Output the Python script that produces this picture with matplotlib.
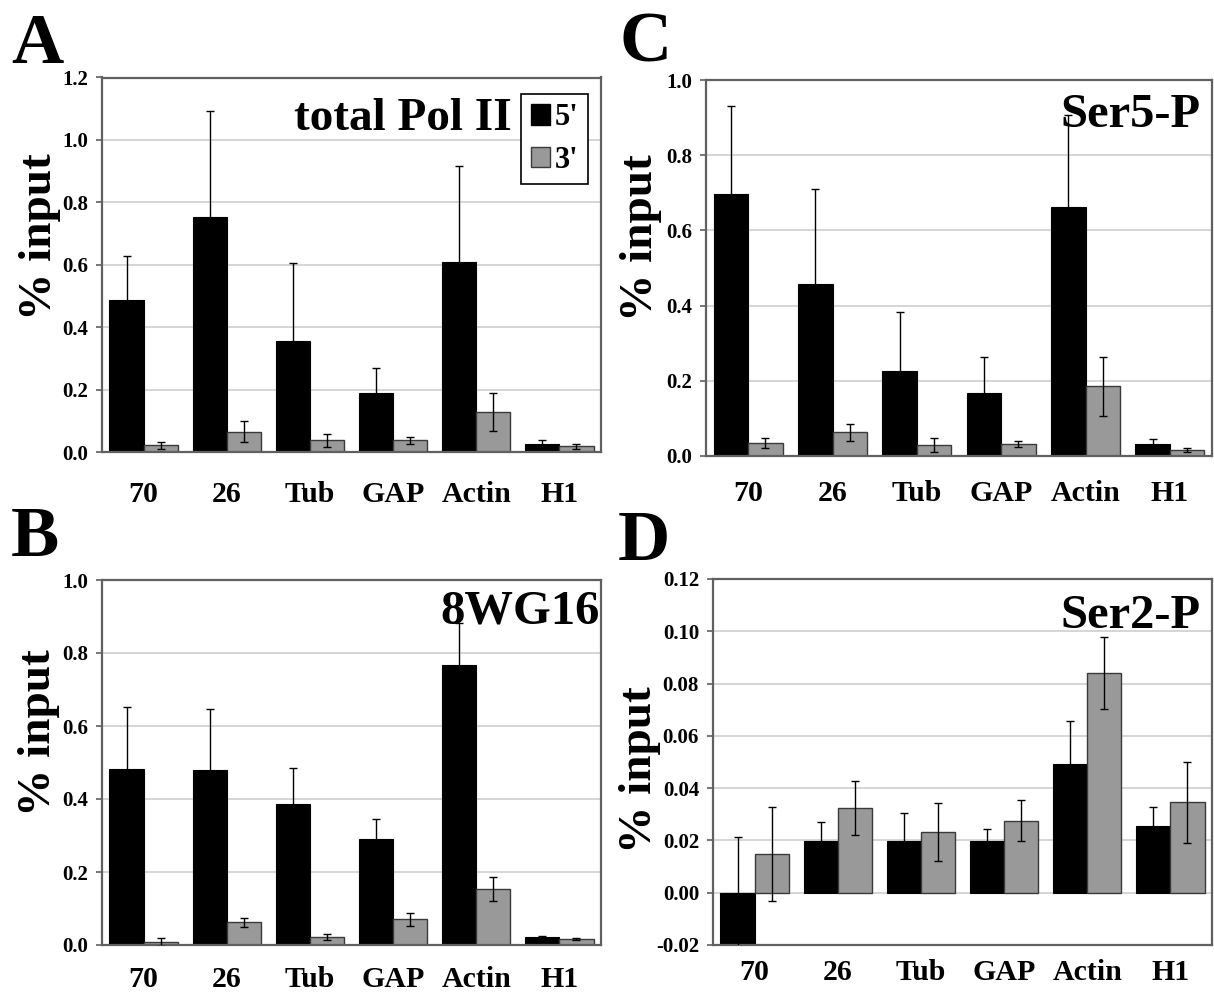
import matplotlib
matplotlib.use("Agg")
import matplotlib.pyplot as plt
from matplotlib.patches import Patch
from matplotlib.ticker import FormatStrFormatter
import numpy as np

# genes on the x axis
genes = ['70', '26', 'Tub', 'GAP', 'Actin', 'H1']

# A: total Pol II
a_5 = [0.487, 0.754, 0.356, 0.188, 0.610, 0.026]
a_5_err = [0.142, 0.340, 0.249, 0.082, 0.305, 0.012]
a_3 = [0.021, 0.065, 0.037, 0.037, 0.127, 0.018]
a_3_err = [0.010, 0.033, 0.021, 0.010, 0.061, 0.008]

# B: 8WG16
b_5 = [0.483, 0.479, 0.387, 0.290, 0.768, 0.021]
b_5_err = [0.169, 0.168, 0.099, 0.055, 0.113, 0.004]
b_3 = [0.009, 0.062, 0.021, 0.070, 0.154, 0.017]
b_3_err = [0.011, 0.013, 0.008, 0.018, 0.033, 0.003]

# C: Ser5-P
c_5 = [0.697, 0.457, 0.225, 0.167, 0.663, 0.032]
c_5_err = [0.235, 0.254, 0.159, 0.096, 0.245, 0.012]
c_3 = [0.035, 0.063, 0.029, 0.032, 0.185, 0.016]
c_3_err = [0.014, 0.023, 0.018, 0.007, 0.078, 0.006]

# D: Ser2-P
d_5 = [-0.021, 0.0199, 0.0199, 0.0196, 0.0493, 0.0255]
d_5_err = [0.0424, 0.0072, 0.0107, 0.0046, 0.0163, 0.0072]
d_3 = [0.0149, 0.0325, 0.0233, 0.0276, 0.0841, 0.0346]
d_3_err = [0.0180, 0.0103, 0.0110, 0.0077, 0.0137, 0.0155]

W, H = 1214, 999
FONT = 'Liberation Serif'
plt.rcParams['font.family'] = [FONT, 'DejaVu Serif']
plt.rcParams['font.weight'] = 'bold'

fig = plt.figure(figsize=(W / 100, H / 100), dpi=100)


def px_axes(left, top, right, bottom):
    """Axes from pixel box (top-left origin)."""
    return fig.add_axes([left / W, 1 - bottom / H, (right - left) / W, (bottom - top) / H])


def fig_text(x, y, s, **kw):
    fig.text(x / W, 1 - y / H, s, fontfamily=FONT, fontweight='bold', **kw)


def draw_panel(ax, v5, e5, v3, e3, ylim, step, fmt, xpad):
    x = np.arange(len(genes))
    w = 0.41
    ax.bar(x - w / 2, v5, w, color='black', edgecolor='black', linewidth=0.8, zorder=2)
    ax.bar(x + w / 2, v3, w, color='#999999', edgecolor='#3a3a3a', linewidth=1.0, zorder=2)
    ax.errorbar(x - w / 2, v5, yerr=e5, fmt='none', ecolor='black', elinewidth=1,
                capsize=3, capthick=1, zorder=3)
    ax.errorbar(x + w / 2, v3, yerr=e3, fmt='none', ecolor='black', elinewidth=1,
                capsize=3, capthick=1, zorder=3)
    ax.set_xlim(-0.5, len(genes) - 0.5)
    ax.set_ylim(*ylim)
    ax.set_yticks(np.arange(ylim[0], ylim[1] + step / 2, step))
    ax.yaxis.set_major_formatter(FormatStrFormatter(fmt))
    ax.yaxis.grid(True, color='#d2d2d2', linewidth=1.3, zorder=0)
    ax.set_axisbelow(True)
    ax.set_xticks(x)
    ax.set_xticklabels(genes, fontsize=21.5, fontfamily=FONT, fontweight='bold')
    ax.tick_params(axis='x', length=0, pad=xpad)
    ax.tick_params(axis='y', length=4, width=1.2, color='#606060', pad=6, labelsize=15)
    for lab in ax.get_yticklabels():
        lab.set_fontfamily(FONT)
        lab.set_fontweight('bold')
    for sp in ax.spines.values():
        sp.set_color('#606060')
        sp.set_linewidth(1.6)


ax_a = px_axes(102, 77.5, 601, 452)
draw_panel(ax_a, a_5, a_5_err, a_3, a_3_err, (0, 1.2), 0.2, '%.1f', 21)
ax_b = px_axes(102, 580, 601, 945)
draw_panel(ax_b, b_5, b_5_err, b_3, b_3_err, (0, 1.0), 0.2, '%.1f', 15)
ax_c = px_axes(706, 80, 1212, 456)
draw_panel(ax_c, c_5, c_5_err, c_3, c_3_err, (0, 1.0), 0.2, '%.1f', 17)
ax_d = px_axes(713, 579, 1212, 945)
draw_panel(ax_d, d_5, d_5_err, d_3, d_3_err, (-0.02, 0.12), 0.02, '%.2f', 10)

# legend in panel A
handles = [Patch(facecolor='black', edgecolor='black', label="5'"),
           Patch(facecolor='#999999', edgecolor='#3a3a3a', label="3'")]
leg = ax_a.legend(handles=handles, loc='upper right', bbox_to_anchor=(588 / W, 1 - 94 / H),
                  bbox_transform=fig.transFigure, prop={'family': FONT, 'weight': 'bold', 'size': 22},
                  frameon=True, fancybox=False, edgecolor='black', framealpha=1,
                  handlelength=0.65, handleheight=0.65, handletextpad=0.15,
                  borderpad=0.3, labelspacing=0.45, borderaxespad=0)
leg.get_frame().set_linewidth(1.2)

# panel titles
fig_text(512, 130, 'total Pol II', fontsize=34, ha='right', va='baseline')
fig_text(1201, 127, 'Ser5-P', fontsize=35, ha='right', va='baseline')
fig_text(600, 623, '8WG16', fontsize=35, ha='right', va='baseline')
fig_text(1201, 628, 'Ser2-P', fontsize=35, ha='right', va='baseline')

# panel letters
fig_text(11, 63, 'A', fontsize=52, ha='left', va='baseline')
fig_text(11, 556, 'B', fontsize=52, ha='left', va='baseline')
fig_text(619, 62, 'C', fontsize=52, ha='left', va='baseline')
fig_text(618, 560, 'D', fontsize=52, ha='left', va='baseline')

# y labels
for xl, yl in [(40, 237), (39, 733), (641, 238), (640, 770)]:
    fig_text(xl, yl, '% input', fontsize=34, rotation=90, ha='center', va='center')

fig.savefig('out.png', dpi=100)
